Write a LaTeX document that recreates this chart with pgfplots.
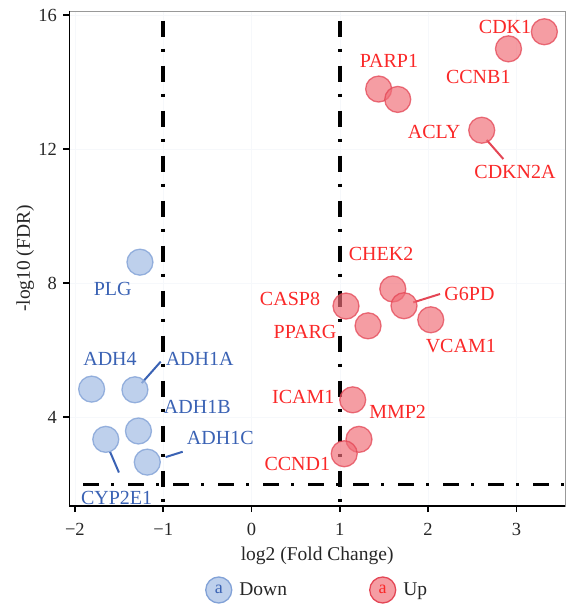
\documentclass[border=0pt]{standalone}
\usepackage{pgfplots}
\pgfplotsset{compat=1.18}
\usepackage{fontspec}
\setmainfont{Liberation Serif}
\definecolor{upfill}{RGB}{240,110,120}
\definecolor{updraw}{RGB}{228,70,85}
\definecolor{uptext}{RGB}{250,40,40}
\definecolor{dnfill}{RGB}{165,190,228}
\definecolor{dndraw}{RGB}{130,162,215}
\definecolor{dntext}{RGB}{58,98,180}
\definecolor{gridc}{RGB}{246,248,251}
\begin{document}
\begin{tikzpicture}
\useasboundingbox (0,0) rectangle (566pt,607pt);
\begin{axis}[
  at={(69.3pt,101pt)}, anchor=south west,
  scale only axis, width=495.7pt, height=495pt,
  xmin=-2.063, xmax=3.55, ymin=1.34, ymax=16.12,
  xtick={-2,-1,0,1,2,3}, xticklabels={−2,−1,0,1,2,3},
  ytick={4,8,12,16},
  xtick pos=bottom, ytick pos=left,
  tick align=outside, major tick length=6pt,
  tick style={black, line width=1.5pt},
  axis line style={draw=gray!80, line width=0.8pt},
  grid=major, grid style={gridc, line width=0.5pt},
  /pgf/number format/assume math mode=true,
  ticklabel style={font=\fontsize{18.5}{18.5}\selectfont, text=black!85},
  xticklabel style={yshift=-8pt},
  yticklabel style={xshift=-3pt},
  xlabel={log2 (Fold Change)}, ylabel={-log10 (FDR)},
  label style={font=\fontsize{19.5}{20}\selectfont, text=black!85},
  xlabel style={at={(axis description cs:0.5,-0.1111)}, anchor=base},
  ylabel style={at={(axis description cs:-0.0793,0.5)}, anchor=base},
  legend style={at={(axis description cs:0.5,-0.1697)}, anchor=center,
    draw=none, fill=none, legend columns=2,
    font=\fontsize{19.5}{20}\selectfont, text=black!85,
    /tikz/every odd column/.append style={column sep=5pt},
    /tikz/every even column/.append style={column sep=80pt}},
  clip=false,
]
% threshold lines
\addplot[forget plot, black, line width=3.5pt, dash pattern=on 16pt off 12pt on 3pt off 14pt]
  coordinates {(-1,15.83) (-1,1.34)};
\addplot[forget plot, black, line width=3.5pt, dash pattern=on 16pt off 12pt on 3pt off 14pt]
  coordinates {(1,15.83) (1,1.34)};
\addplot[forget plot, black, line width=3.5pt, dash pattern=on 16pt off 12pt on 3pt off 14pt, dash phase=31pt]
  coordinates {(-2.063,1.98) (3.55,1.98)};
% connector lines
\addplot[forget plot, updraw, line width=2pt] coordinates {(2.663,12.27) (2.852,11.70)};
\addplot[forget plot, updraw, line width=2pt] coordinates {(1.832,7.42) (2.135,7.67)};
\addplot[forget plot, dntext, line width=2pt] coordinates {(-1.243,5.01) (-1.028,5.65)};
\addplot[forget plot, dntext, line width=2pt] coordinates {(-0.972,2.80) (-0.779,2.96)};
\addplot[forget plot, dntext, line width=2pt] coordinates {(-1.602,2.96) (-1.501,2.34)};
% points
\addplot[only marks, mark=*, mark size=13pt,
  mark options={fill=dnfill, draw=dndraw, fill opacity=0.72, draw opacity=0.8, line width=1.3pt},
  legend image code/.code={\draw[fill=dnfill, draw=dndraw, fill opacity=0.72, line width=1.3pt] (0pt,0pt) circle (13pt);
    \node[text=dntext, inner sep=0pt, anchor=center, font=\fontsize{18}{18}\selectfont] at (0pt,0pt) {a};}]
  coordinates {(-1.263,8.62) (-1.81,4.83) (-1.32,4.81) (-1.28,3.58) (-1.65,3.33) (-1.18,2.65)};
\addlegendentry{Down}
\addplot[only marks, mark=*, mark size=13pt,
  mark options={fill=upfill, draw=updraw, fill opacity=0.68, draw opacity=0.75, line width=1.3pt},
  legend image code/.code={\draw[fill=upfill, draw=updraw, fill opacity=0.68, line width=1.3pt] (0pt,0pt) circle (13pt);
    \node[text=uptext, inner sep=0pt, anchor=center, font=\fontsize{18}{18}\selectfont] at (0pt,0pt) {a};}]
  coordinates {(3.316,15.50) (2.91,14.99) (1.44,13.79) (1.656,13.48) (2.607,12.56)
   (1.07,7.31) (1.32,6.72) (1.60,7.82) (1.727,7.32) (2.03,6.90)
   (1.146,4.51) (1.217,3.33) (1.05,2.90)};
\addlegendentry{Up}
% labels
\begin{scope}[every node/.style={inner sep=0pt, anchor=center, font=\fontsize{20}{20}\selectfont}]
\node[text=uptext] at (axis cs:2.871,15.65) {CDK1};
\node[text=uptext] at (axis cs:2.568,14.16) {CCNB1};
\node[text=uptext] at (axis cs:1.557,14.63) {PARP1};
\node[text=uptext] at (axis cs:2.067,12.52) {ACLY};
\node[text=uptext] at (axis cs:2.984,11.32) {CDKN2A};
\node[text=uptext] at (axis cs:1.467,8.857) {CHEK2};
\node[text=uptext] at (axis cs:0.436,7.53) {CASP8};
\node[text=uptext] at (axis cs:0.606,6.55) {PPARG};
\node[text=uptext] at (axis cs:2.468,7.67) {G6PD};
\node[text=uptext] at (axis cs:2.37,6.12) {VCAM1};
\node[text=uptext] at (axis cs:0.587,4.59) {ICAM1};
\node[text=uptext] at (axis cs:1.655,4.16) {MMP2};
\node[text=uptext] at (axis cs:0.519,2.59) {CCND1};
\node[text=dntext] at (axis cs:-1.572,7.81) {PLG};
\node[text=dntext] at (axis cs:-1.602,5.72) {ADH4};
\node[text=dntext] at (axis cs:-0.587,5.72) {ADH1A};
\node[text=dntext] at (axis cs:-0.614,4.31) {ADH1B};
\node[text=dntext] at (axis cs:-0.353,3.38) {ADH1C};
\node[text=dntext] at (axis cs:-1.527,1.57) {CYP2E1};
\end{scope}
% emphasised left and bottom axis lines
\draw[black, line width=1.5pt] (rel axis cs:0,1) -- (rel axis cs:0,0) -- (rel axis cs:1,0);
\end{axis}
\end{tikzpicture}
\end{document}
